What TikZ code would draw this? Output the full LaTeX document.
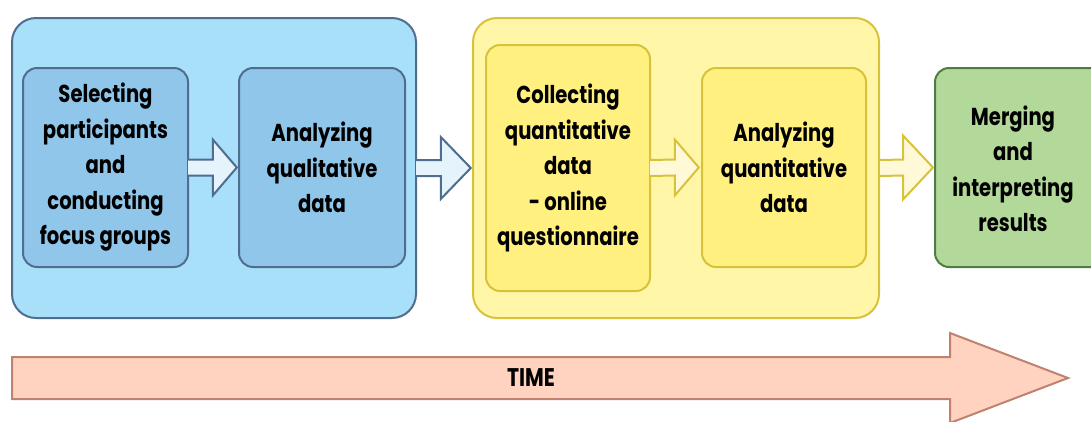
\documentclass[tikz,border=0pt]{standalone}
\usepackage{fontspec}
\setmainfont{Poppins}[FakeStretch=0.8]
\usetikzlibrary{calc}
\definecolor{bOut}{HTML}{A8E0FA}
\definecolor{bLine}{HTML}{4F6D8F}
\definecolor{bIn}{HTML}{8FC6EA}
\definecolor{bArr}{HTML}{E4F3FC}
\definecolor{yOut}{HTML}{FFF6A8}
\definecolor{yLine}{HTML}{D8C23A}
\definecolor{yIn}{HTML}{FFF080}
\definecolor{yArr}{HTML}{FFF9D8}
\definecolor{gFill}{HTML}{B3D99A}
\definecolor{gLine}{HTML}{4E7B46}
\definecolor{tFill}{HTML}{FFD3C0}
\definecolor{tLine}{HTML}{C18170}
\tikzset{
  outerbox/.style={rounded corners=24pt, line width=2pt},
  innerbox/.style={rounded corners=14pt, line width=2pt},
  lbl/.style={align=center, font=\fontsize{24.5}{35.5}\selectfont\bfseries},
  barrow/.style={line width=2pt, line join=miter},
}
\begin{document}
\begin{tikzpicture}[x=1pt,y=-1pt]
\useasboundingbox (0,0) rectangle (1091,421);
\begin{scope}
\clip (0,0) rectangle (1091,421);
% outer groups
\draw[outerbox, draw=bLine, fill=bOut] (12,18) rectangle (416,318);
\node (qual) at (214,168) [minimum width=404pt, minimum height=300pt, inner sep=0pt] {};
\draw[outerbox, draw=yLine, fill=yOut] (473,18) rectangle (879,318);
\node (quant) at (676,168) [minimum width=406pt, minimum height=300pt, inner sep=0pt] {};
% inner boxes
\draw[innerbox, draw=bLine, fill=bIn] (23,68) rectangle (188,267);
\node[lbl] (b1) at (105.5,167.5) [minimum width=165pt, minimum height=199pt] {Selecting\\participants\\and\\conducting\\focus groups};
\draw[innerbox, draw=bLine, fill=bIn] (239,68) rectangle (405,267);
\node[lbl] (b2) at (322,167.5) [minimum width=166pt, minimum height=199pt] {Analyzing\\qualitative\\data};
\draw[innerbox, draw=yLine, fill=yIn] (486,45) rectangle (650,291);
\node[lbl] (b3) at (568,168) [minimum width=164pt, minimum height=246pt] {Collecting\\quantitative\\data\\- online\\questionnaire};
\draw[innerbox, draw=yLine, fill=yIn] (702,68) rectangle (866,267);
\node[lbl] (b4) at (784,167.5) [minimum width=164pt, minimum height=199pt] {Analyzing\\quantitative\\data};
\draw[innerbox, draw=gLine, fill=gFill] (935,68) rectangle (1110,267);
\node[lbl] (b5) at (1013,169) {Merging\\and\\interpreting\\results};
\coordinate (b5w) at (935,167.5);
% block arrows
\draw[barrow, draw=bLine, fill=bArr]
  ($(b1.east)+(0,-8)$) -- ($(b2.west)+(-26,-8)$) -- ($(b2.west)+(-26,-28)$) -- ($(b2.west)+(-2,0)$)
  -- ($(b2.west)+(-26,28)$) -- ($(b2.west)+(-26,8)$) -- ($(b1.east)+(0,8)$);
\draw[barrow, draw=bLine, fill=bArr]
  ($(qual.east)+(0,-8)$) -- ($(quant.west)+(-32,-8)$) -- ($(quant.west)+(-32,-31)$) -- ($(quant.west)+(-2,0)$)
  -- ($(quant.west)+(-32,31)$) -- ($(quant.west)+(-32,8)$) -- ($(qual.east)+(0,8)$);
\draw[barrow, draw=yLine, fill=yArr]
  ($(b3.east)+(0,-8)$) -- ($(b4.west)+(-27,-8)$) -- ($(b4.west)+(-27,-28)$) -- ($(b4.west)+(-3,0)$)
  -- ($(b4.west)+(-27,28)$) -- ($(b4.west)+(-27,8)$) -- ($(b3.east)+(0,8)$);
\draw[barrow, draw=yLine, fill=yArr]
  ($(quant.east)+(1,-8)$) -- ($(b5w)+(-32,-8)$) -- ($(b5w)+(-32,-32)$) -- ($(b5w)+(-2,0)$)
  -- ($(b5w)+(-32,32)$) -- ($(b5w)+(-32,8)$) -- ($(quant.east)+(1,8)$);
% time arrow
\draw[line width=2pt, draw=tLine, fill=tFill, line join=miter]
  (12,357) -- (950,357) -- (950,333) -- (1068,378) -- (950,423) -- (950,399) -- (12,399) -- cycle;
\node[font=\fontsize{25.5}{28}\selectfont\bfseries] (time) at (531,378) {TIME};
\end{scope}
\end{tikzpicture}
\end{document}
